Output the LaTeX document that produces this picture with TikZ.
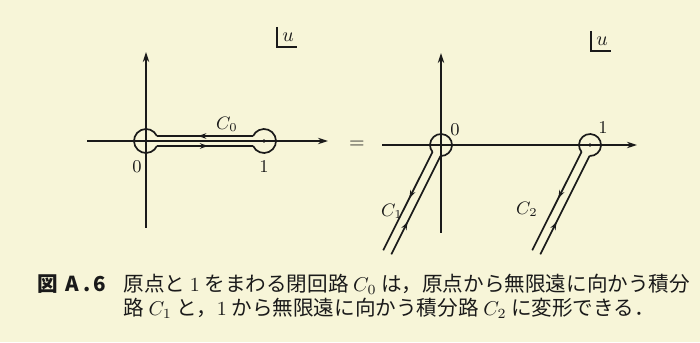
\documentclass[tikz,border=0pt]{standalone}
\usepackage{fontspec}
\newfontfamily\jafont{Noto Sans CJK JP}
\usetikzlibrary{arrows.meta,positioning,decorations.markings}
\definecolor{paper}{HTML}{F7F5D8}
\definecolor{ink}{HTML}{1A1A1A}

\begin{document}
\begin{tikzpicture}[
  x=0.5pt,y=0.5pt,
  font=\fontsize{9}{10}\selectfont,
  ax/.style={ink,line width=0.65pt,-{Stealth[length=5pt,width=3.2pt]}},
  cont/.style={ink,line width=0.85pt},
  mid/.style={postaction={decorate},decoration={markings,mark=at position #1 with {\arrow{Stealth[length=4pt,width=2.8pt]}}}},
  lbl/.style={text=ink,inner sep=1pt},
  captext/.style={text=ink,inner sep=0pt,anchor=west,font=\fontsize{10.3}{12}\selectfont\jafont},
]
\fill[paper] (0,0) rectangle (700,342);
\useasboundingbox (0,0) rectangle (700,342);

% left plane
\coordinate (O1) at (146,201);
\coordinate (P1) at (264,201);
\coordinate (xa1) at (87,201);
\coordinate (xb1) at (328,201);
\coordinate (ya1) at (146,114);
\coordinate (yb1) at (146,290);
\draw[ax] (xa1) -- (xb1);
\draw[ax] (ya1) -- (yb1);
\begin{scope}[shift={(O1)}]
  \draw[cont,mid=0.57] (107.09,5) -- (10.91,5);
  \draw[cont] (10.91,5) arc[start angle=24.6,end angle=335.4,radius=12];
  \draw[cont,mid=0.53] (10.91,-5) -- (107.09,-5);
  \draw[cont] (107.09,-5) arc[start angle=204.6,end angle=515.4,radius=12];
\end{scope}
\foreach \p in {O1,P1} \fill[ink] (\p) circle[radius=1.8];
\node[lbl] (zeroL) at (137,175) {0};
\node[lbl] (oneL) at (264,175) {1};
\node[lbl] (cz) at (227,218) {$C_0$};
\node[lbl,font=\fontsize{10}{11}\selectfont] (uL) at (288,305) {$u$};
\draw[ink,line width=0.6pt] ([shift={(-11,10)}]uL.center) |- ([shift={(9,-10)}]uL.center);

\node[lbl,font=\fontsize{10}{11}\selectfont] (eq) at (357,197) {$=$};

% right plane
\coordinate (O2) at (441,197);
\coordinate (P2) at (590,197);
\coordinate (xa2) at (382,197);
\coordinate (xb2) at (637,197);
\coordinate (ya2) at (441,109);
\coordinate (yb2) at (441,289);
\draw[ax] (xa2) -- (xb2);
\draw[ax] (ya2) -- (yb2);
\foreach \c in {O2,P2}{
  \begin{scope}[shift={(\c)},rotate=243.4]
    \draw[cont,mid=0.33] (120,4.5) -- (10.04,4.5);
    \draw[cont] (10.04,4.5) arc[start angle=24.1,end angle=335.9,radius=11];
    \draw[cont,mid=0.47] (10.04,-4.5) -- (120,-4.5);
  \end{scope}
  \fill[ink] (\c) circle[radius=1.8];
}
\node[lbl] (zeroR) at (455,212) {0};
\node[lbl] (oneR) at (603,214) {1};
\node[lbl] (cone) at (392,131) {$C_1$};
\node[lbl] (ctwo) at (527,133) {$C_2$};
\node[lbl,font=\fontsize{10}{11}\selectfont] (uR) at (602,301) {$u$};
\draw[ink,line width=0.6pt] ([shift={(-11,10)}]uR.center) |- ([shift={(9,-10)}]uR.center);

% caption
\node[captext,font=\fontsize{10.3}{12}\selectfont\jafont\bfseries] (fig) at (37,58) {図\hspace{4pt}A\,.\,6};
\node[captext] (capA) at (123,58) {原点と $1$ をまわる閉回路 $C_0$ は，原点から無限遠に向かう積分};
\node[captext] (capB) at ([yshift=-12pt]capA.west) {路 $C_1$ と，$1$ から無限遠に向かう積分路 $C_2$ に変形できる．};
\end{tikzpicture}
\end{document}
